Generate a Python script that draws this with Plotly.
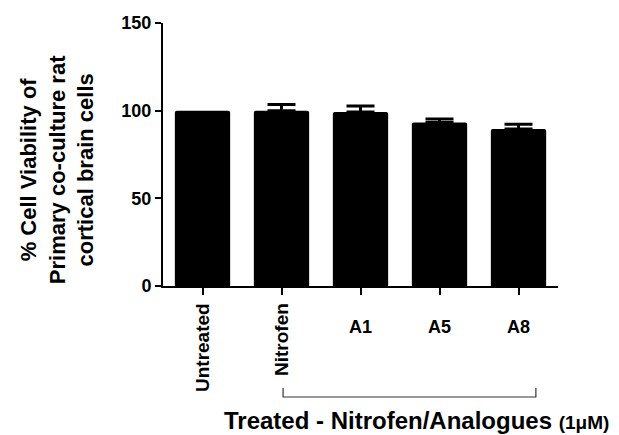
import plotly.graph_objects as go

categories = ["Untreated", "Nitrofen", "A1", "A5", "A8"]
viability = [100.0, 100.0, 99.3, 93.3, 89.5]
sem = [0.0, 3.5, 3.3, 2.0, 2.7]
rotated_labels = ["Untreated", "Nitrofen"]
flat_labels = ["A1", "A5", "A8"]
y_ticks = [0, 50, 100, 150]

FONT = "Arial, Liberation Sans, sans-serif"

fig = go.Figure()
# control bar (no error bar shown)
fig.add_trace(go.Bar(
    x=categories[:1], y=viability[:1], width=0.7,
    marker=dict(color="black", line=dict(width=0), cornerradius=2),
    showlegend=False,
))
# treated bars with upper SEM
fig.add_trace(go.Bar(
    x=categories[1:], y=viability[1:], width=0.7,
    marker=dict(color="black", line=dict(width=0), cornerradius=2),
    error_y=dict(type="data", array=sem[1:], arrayminus=[0] * len(sem[1:]), symmetric=False,
                 color="black", thickness=3, width=14, visible=True),
    showlegend=False,
))

annotations = []
for lab in rotated_labels:
    annotations.append(dict(
        x=lab, xref="x", y=0, yref="y domain", text=f"<b>{lab}</b>", showarrow=False,
        textangle=-90, xanchor="center", yanchor="top", yshift=-15,
        font=dict(family=FONT, size=19, color="black")))
for lab in flat_labels:
    annotations.append(dict(
        x=lab, xref="x", y=0, yref="y domain", text=f"<b>{lab}</b>", showarrow=False,
        xanchor="center", yanchor="middle", yshift=-41,
        font=dict(family=FONT, size=18, color="black")))

# y-axis title (three lines)
annotations.append(dict(
    x=-0.268, xref="paper", y=0.441, yref="paper", showarrow=False, textangle=-90,
    text="<b>% Cell Viability of<br>Primary co-culture rat<br>cortical brain cells</b>",
    xanchor="center", yanchor="middle",
    font=dict(family=FONT, size=22, color="black")))

# bottom group title
annotations.append(dict(
    x=0.150, xref="paper", y=-0.51, yref="paper", showarrow=False,
    text="<b>Treated - Nitrofen/Analogues <span style='font-size:19px'>(1μM)</span></b>",
    xanchor="left", yanchor="middle",
    font=dict(family=FONT, size=24, color="black")))

shapes = [dict(
    type="path", xref="x domain", yref="y domain",
    path="M 0.304,-0.388 L 0.304,-0.422 L 0.944,-0.422 L 0.944,-0.388",
    line=dict(color="#333333", width=1.2))]

fig.update_layout(
    width=619, height=435,
    margin=dict(l=163, r=61, t=23, b=149),
    paper_bgcolor="white", plot_bgcolor="white",
    barmode="overlay",
    annotations=annotations,
    shapes=shapes,
    font=dict(family=FONT, size=18, color="black"),
)
fig.update_xaxes(
    categoryorder="array", categoryarray=categories,
    range=[-0.5, 4.5], showline=True, linecolor="black", linewidth=2,
    ticks="outside", ticklen=7, tickwidth=2, tickcolor="black",
    showticklabels=False, showgrid=False, zeroline=False,
)
fig.update_yaxes(
    range=[0, 150], tickvals=y_ticks, ticktext=[f"<b>{v}</b>" for v in y_ticks],
    showline=True, linecolor="black", linewidth=2,
    ticks="outside", ticklen=6, tickwidth=2, tickcolor="black",
    showgrid=False, zeroline=False,
    tickfont=dict(family=FONT, size=18, color="black"),
)

fig.write_html("out.html", config={"displayModeBar": False},
               post_script="document.body.style.margin='0px';")
